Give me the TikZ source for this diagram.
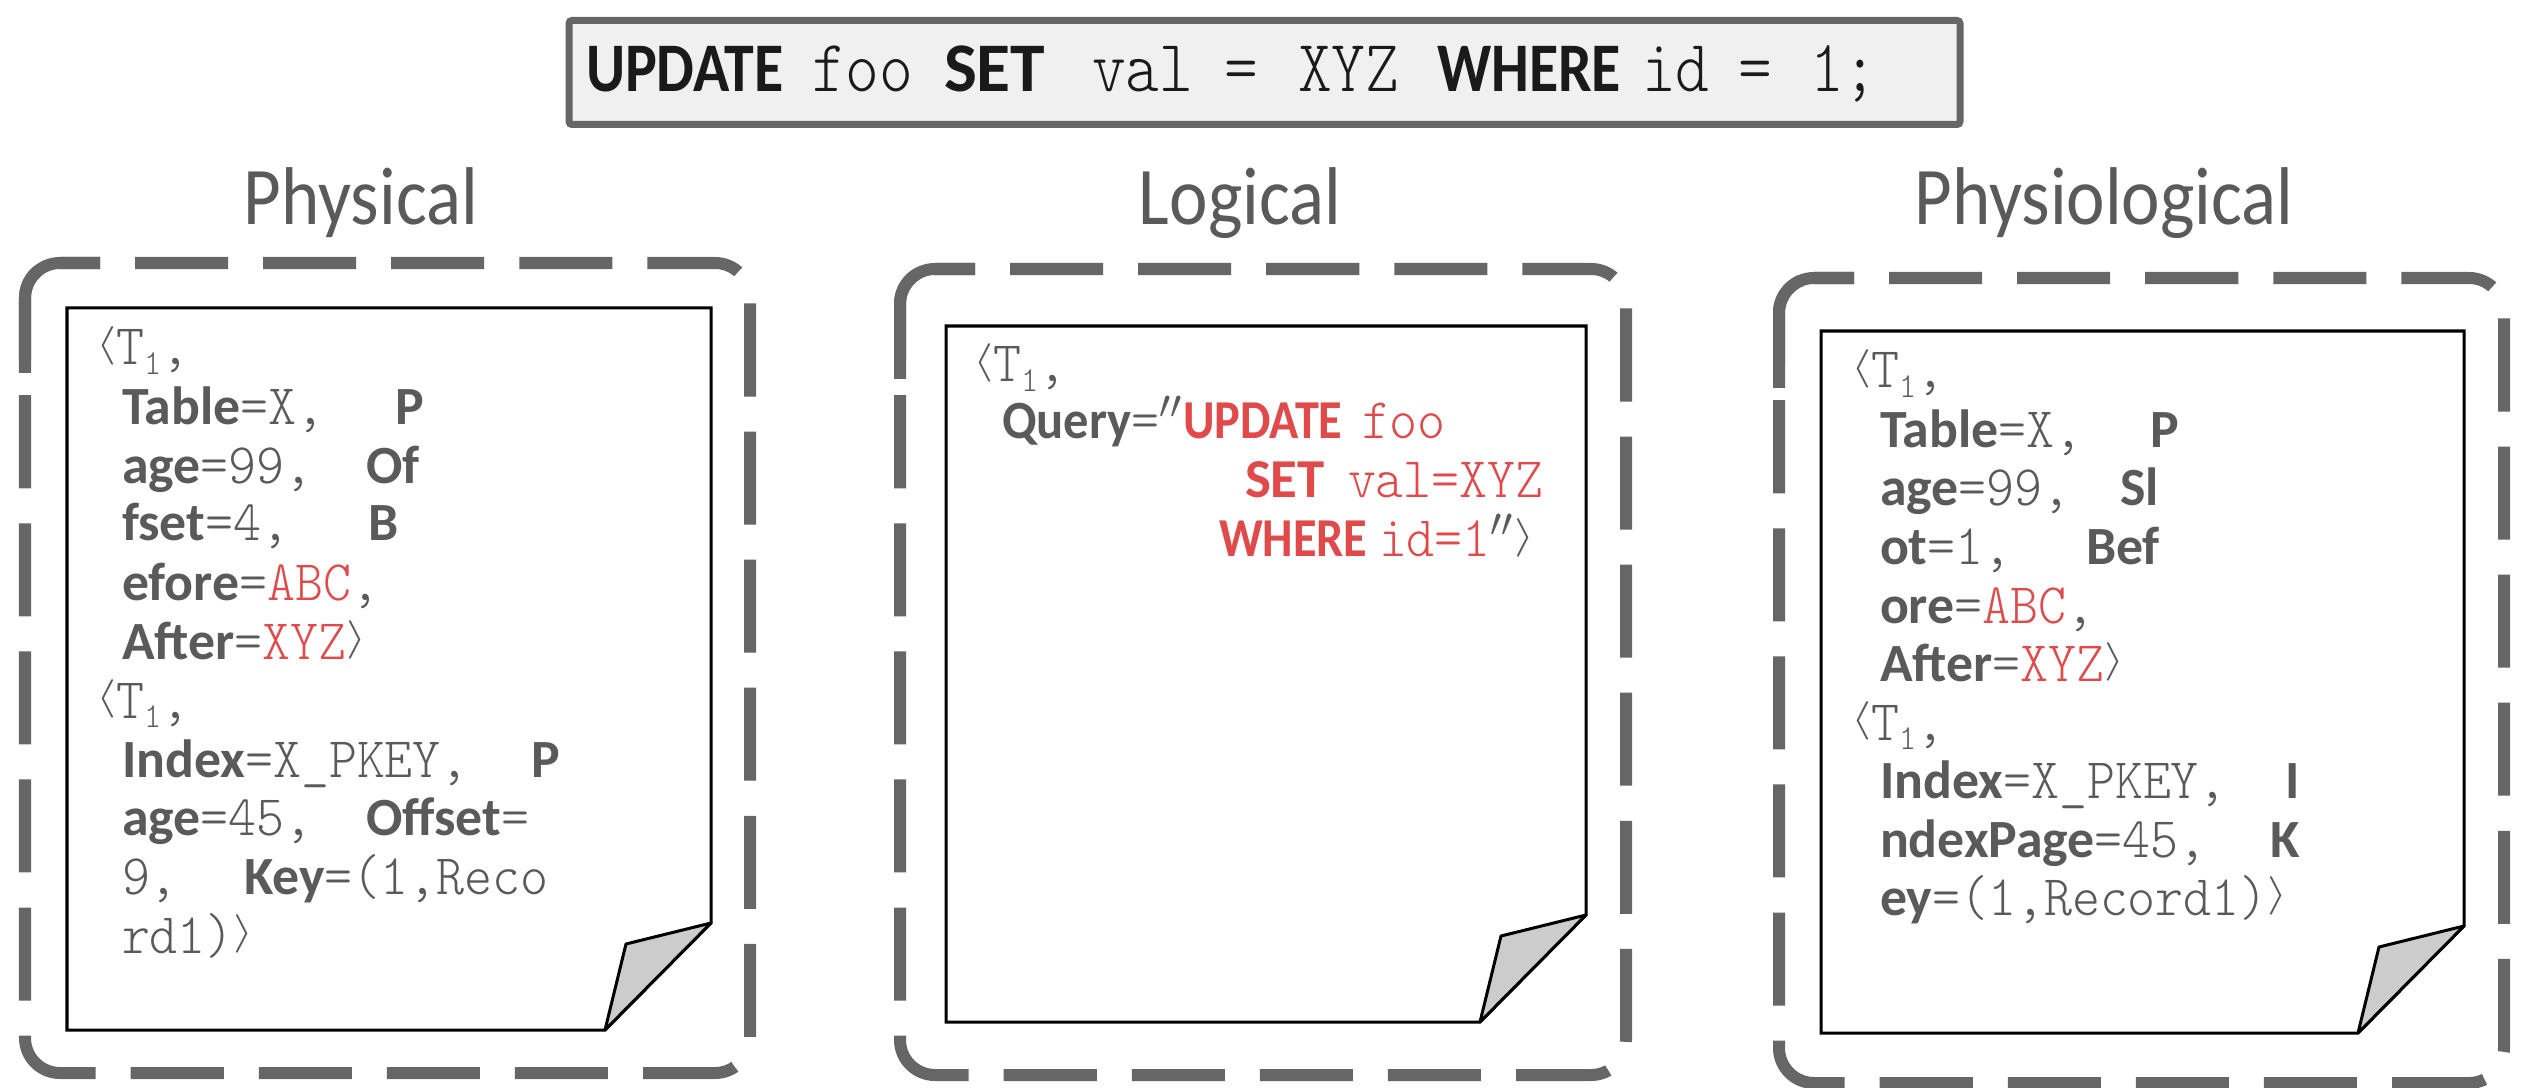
\RequirePackage{fix-cm}
\documentclass[tikz,border=0pt]{standalone}
\usepackage{fontspec}
\usepackage{graphicx}
\setmainfont{Carlito}
\newfontfamily\titlef[FakeStretch=0.89]{Carlito}
\newfontfamily\topkeyf[FakeStretch=0.86]{Carlito}
\newfontfamily\keyf{Carlito}
\newfontfamily\rkeyf[FakeStretch=0.88]{Carlito}
\newfontfamily\qkeyf[FakeStretch=0.94]{Carlito}
\newfontfamily\valf[FakeStretch=0.93]{lmmonolt10-regular.otf}
\newfontfamily\topvalf[FakeStretch=0.87]{lmmonolt10-regular.otf}
\definecolor{tg}{HTML}{5A5A5A}
\definecolor{tr}{HTML}{E04A4A}
\definecolor{dg}{HTML}{666666}
\definecolor{tb}{HTML}{1A1A1A}
\definecolor{boxfill}{HTML}{F0F0F0}
\definecolor{foldgray}{HTML}{CCCCCC}
\newcommand\kk[1]{{\keyf\bfseries\fontsize{15.3}{16}\selectfont\color{tg}#1}}
\newcommand\qk[1]{{\qkeyf\bfseries\fontsize{15.3}{16}\selectfont\color{tg}#1}}
\newcommand\rk[1]{{\rkeyf\bfseries\fontsize{15.6}{16}\selectfont\color{tr}#1}}
\newcommand\rkw[1]{{\keyf\bfseries\fontsize{15.6}{16}\selectfont\color{tr}#1}}
\newcommand\vv[1]{{\valf\fontsize{16.3}{17}\selectfont\color{tg}#1}}
\newcommand\rr[1]{{\valf\fontsize{16.3}{17}\selectfont\color{tr}#1}}
\newcommand\lang{{\fontsize{16.3}{17}\selectfont\color{tg}\raisebox{0.17em}{\scalebox{0.9}[0.67]{$\langle$}}}}
\newcommand\rang{{\fontsize{16.3}{17}\selectfont\color{tg}\raisebox{0.17em}{\scalebox{0.9}[0.67]{$\rangle$}}}}
\newcommand\dq{{\fontsize{16.3}{17}\selectfont\color{tg}$''$}}
\newcommand\tone{\lang\vv{T\raisebox{-0.09cm}{\fontsize{10}{10}\selectfont 1},}}
\newcommand\tk[1]{{\topkeyf\bfseries\fontsize{19.8}{20}\selectfont\color{tb}#1}}
\newcommand\tkw[1]{{\keyf\bfseries\fontsize{19.8}{20}\selectfont\color{tb}#1}}
\newcommand\tv[1]{{\topvalf\fontsize{21}{22}\selectfont\color{tb}#1}}
\newcommand\dbox[4]{%
  \draw[dboxline] ({#1+35},#2) -- (#3,#2) -- (#3,#4) -- (#1,#4) -- (#1,#2) -- ({#1+35},#2);
  \draw[dsolid] (#1,{#2+110}) -- (#1,#2) -- ({#1+75},#2);
}
\newcommand\paper[4]{%
  \draw[paperline] (#1,#2) -- (#3,#2) -- (#3,{#4-107}) -- ({#3-106},#4) -- (#1,#4) -- cycle;
  \draw[foldline] (#3,{#4-107}) -- ({#3-85},{#4-86}) -- ({#3-106},#4) -- cycle;
}
\begin{document}
\begin{tikzpicture}[x=0.01cm,y=-0.01cm,
  dboxline/.style={draw=dg, line width=0.12cm, rounded corners=0.35cm, dash pattern=on 0.93cm off 0.35cm, dash phase=0.53cm},
  dsolid/.style={draw=dg, line width=0.12cm, rounded corners=0.35cm},
  paperline/.style={draw=black, fill=white, line width=0.03cm},
  foldline/.style={draw=black, fill=foldgray, line width=0.03cm, line join=round},
  topbox/.style={draw=dg, fill=boxfill, line width=0.07cm, rounded corners=0.03cm},
  tx/.style={anchor=base west, inner sep=0pt, outer sep=0pt},
  ttl/.style={anchor=base, inner sep=0pt, font=\titlef\fontsize{23.3}{24}\selectfont, text=tg}]
\useasboundingbox (0,0) rectangle (2526,1088);
\fill[white] (0,0) rectangle (2526,1088);

% top query box
\draw[topbox] (569,20.5) rectangle (1960,124.5);
\node[tx] (q1) at (586,92) {\tk{UPDATE}};
\node[tx] (q2) at (812,92) {\tv{foo}};
\node[tx] (q3) at (944,92) {\tkw{SET}};
\node[tx] (q4) at (1092,92) {\tv{val}};
\node[tx] (q5) at (1224,92) {\tv{=}};
\node[tx] (q6) at (1298,92) {\tv{XYZ}};
\node[tx] (q7) at (1437,92) {\tk{WHERE}};
\node[tx] (q8) at (1642,92) {\tv{id}};
\node[tx] (q9) at (1738,92) {\tv{=}};
\node[tx] (q10) at (1810,92) {\tv{1;}};

% titles
\node[ttl] (tphy) at (361,225) {Physical};
\node[ttl] (tlog) at (1240,225) {Logical};
\node[ttl] (tpsl) at (2104,225) {Physiological};

% dashed frames
\dbox{25}{263}{750}{1073}
\dbox{900}{269}{1626}{1075}
\dbox{1779}{278}{2504}{1083}

% pages
\paper{67}{308}{711}{1030}
\paper{946}{326}{1586}{1022}
\paper{1821}{331}{2464}{1033}

% physical page text
\node[tx] (a0) at (96,365) {\tone};
\node[tx] (a1) at (122,424) {\kk{Table}\vv{=X,}};
\node[tx] (a1b) at (395,424) {\kk{P}};
\node[tx] (a2) at (122,483) {\kk{age}\vv{=99,}};
\node[tx] (a2b) at (366,483) {\kk{Of}};
\node[tx] (a3) at (122,541) {\kk{fset}\vv{=4,}};
\node[tx] (a3b) at (368,541) {\kk{B}};
\node[tx] (a4) at (122,600) {\kk{efore}\vv{=}\rr{ABC}\vv{,}};
\node[tx] (a5) at (122,659) {\kk{After}\vv{=}\rr{XYZ}\rang};
\node[tx] (a6) at (96,718) {\tone};
\node[tx] (a7) at (122,777) {\kk{Index}\vv{=X\_PKEY,}};
\node[tx] (a7b) at (531,777) {\kk{P}};
\node[tx] (a8) at (122,835) {\kk{age}\vv{=45,}};
\node[tx] (a8b) at (366,835) {\kk{Offset}\vv{=}};
\node[tx] (a9) at (122,894) {\vv{9,}};
\node[tx] (a9b) at (244,894) {\kk{Key}\vv{=(1,Reco}};
\node[tx] (a10) at (122,953) {\vv{rd1)}\rang};

% logical page text
\node[tx] (b0) at (973,382) {\tone};
\node[tx] (b1) at (1002,439) {\qk{Query}\vv{=}\dq};
\node[tx] (b1b) at (1183,439) {\rk{UPDATE}};
\node[tx] (b1c) at (1362,439) {\rr{foo}};
\node[tx] (b2) at (1245,497) {\rkw{SET}};
\node[tx] (b2b) at (1348,497) {\rr{val=XYZ}};
\node[tx] (b3) at (1219,557) {\rk{WHERE}};
\node[tx] (b3b) at (1379,557) {\rr{id=1}\dq\rang};

% physiological page text
\node[tx] (c0) at (1851,388) {\tone};
\node[tx] (c1) at (1880,447) {\kk{Table}\vv{=X,}};
\node[tx] (c1b) at (2150,447) {\kk{P}};
\node[tx] (c2) at (1880,505) {\kk{age}\vv{=99,}};
\node[tx] (c2b) at (2120,505) {\kk{Sl}};
\node[tx] (c3) at (1880,564) {\kk{ot}\vv{=1,}};
\node[tx] (c3b) at (2086,564) {\kk{Bef}};
\node[tx] (c4) at (1880,623) {\kk{ore}\vv{=}\rr{ABC}\vv{,}};
\node[tx] (c5) at (1880,681) {\kk{After}\vv{=}\rr{XYZ}\rang};
\node[tx] (c6) at (1851,740) {\tone};
\node[tx] (c7) at (1880,798) {\kk{Index}\vv{=X\_PKEY,}};
\node[tx] (c7b) at (2285,798) {\kk{I}};
\node[tx] (c8) at (1880,857) {\kk{ndexPage}\vv{=45,}};
\node[tx] (c8b) at (2270,857) {\kk{K}};
\node[tx] (c9) at (1880,915) {\kk{ey}\vv{=(1,Record1)}\rang};
\end{tikzpicture}
\end{document}
